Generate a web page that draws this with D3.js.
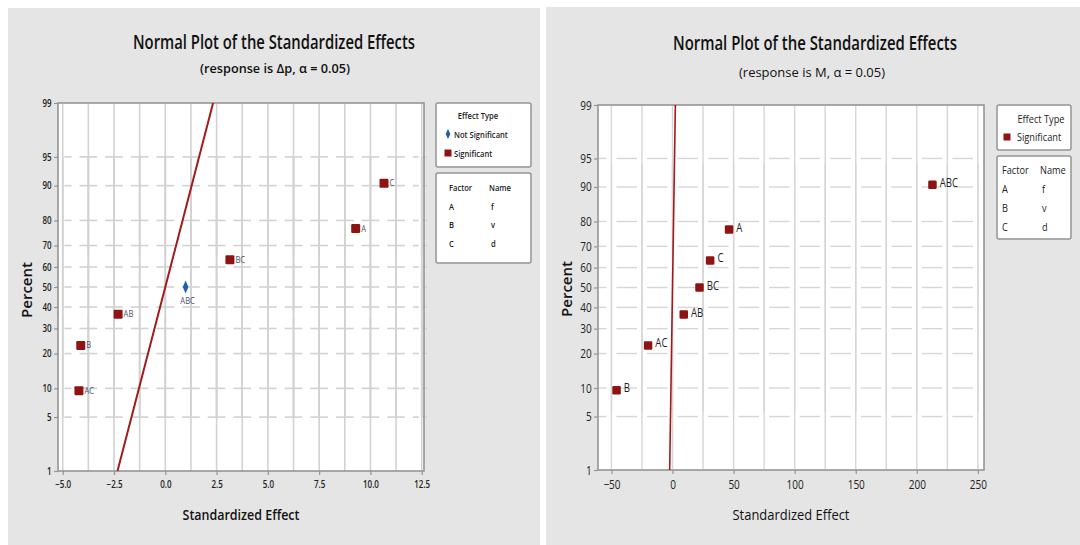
<!DOCTYPE html>
<html><head><meta charset="utf-8">
<script src="https://cdn.jsdelivr.net/npm/d3@7"></script>
<style>html,body{margin:0;padding:0;background:#fff;}svg{display:block;font-family:"Open Sans","Noto Sans",sans-serif;}</style>
</head><body><div id="c"></div>
<script>
// ---------- DATA ----------
const titleText = "Normal Plot of the Standardized Effects";
const subtitleLeft = "(response is Δp, α = 0.05)";
const subtitleRight = "(response is M, α = 0.05)";
const xLabel = "Standardized Effect";
const yLabel = "Percent";

const effectsLeft = ["AC", "B", "AB", "ABC", "BC", "A", "C"];
const valuesLeft = [-4.21, -4.12, -2.30, 0.99, 3.15, 9.28, 10.66];
const percentLeft = [9.5, 23.0, 36.5, 50.0, 63.5, 77.0, 90.5];
const significantLeft = [true, true, true, false, true, true, true];

const effectsRight = ["B", "AC", "AB", "BC", "C", "A", "ABC"];
const valuesRight = [-45.8, -20.0, 9.2, 22.1, 30.8, 46.3, 212.8];
const percentRight = [9.5, 23.0, 36.5, 50.0, 63.5, 77.0, 90.5];
const significantRight = [true, true, true, true, true, true, true];

const refLineEffect = [-2.33, 2.33];
const refLinePercent = [1, 99];

const xTicksLeft = [-5.0, -2.5, 0.0, 2.5, 5.0, 7.5, 10.0, 12.5];
const xTicksRight = [-50, 0, 50, 100, 150, 200, 250];
const percentTicks = [1, 5, 10, 20, 30, 40, 50, 60, 70, 80, 90, 95, 99];

const factorCodes = ["A", "B", "C"];
const factorNames = ["f", "v", "d"];
const effectTypesLeft = ["Not Significant", "Significant"];
const effectTypesRight = ["Significant"];

// ---------- HELPERS ----------
function qnorm(p){
  const a=[-3.969683028665376e+01,2.209460984245205e+02,-2.759285104469687e+02,1.383577518672690e+02,-3.066479806614716e+01,2.506628277459239e+00];
  const b=[-5.447609879822406e+01,1.615858368580409e+02,-1.556989798598866e+02,6.680131188771972e+01,-1.328068155288572e+01];
  const c=[-7.784894002430293e-03,-3.223964580411365e-01,-2.400758277161838e+00,-2.549732539343734e+00,4.374664141464968e+00,2.938163982698783e+00];
  const d=[7.784695709041462e-03,3.224671290700398e-01,2.445134137142996e+00,3.754408661907416e+00];
  const pl=0.02425; let q,r;
  if(p<pl){q=Math.sqrt(-2*Math.log(p));return (((((c[0]*q+c[1])*q+c[2])*q+c[3])*q+c[4])*q+c[5])/((((d[0]*q+d[1])*q+d[2])*q+d[3])*q+1);}
  if(p<=1-pl){q=p-0.5;r=q*q;return (((((a[0]*r+a[1])*r+a[2])*r+a[3])*r+a[4])*r+a[5])*q/(((((b[0]*r+b[1])*r+b[2])*r+b[3])*r+b[4])*r+1);}
  q=Math.sqrt(-2*Math.log(1-p));return -(((((c[0]*q+c[1])*q+c[2])*q+c[3])*q+c[4])*q+c[5])/((((d[0]*q+d[1])*q+d[2])*q+d[3])*q+1);
}
const zOf = p => qnorm(p/100);

const W=1080, H=545;
const svg = d3.select("#c").append("svg").attr("width",W).attr("height",H);
svg.append("rect").attr("width",W).attr("height",H).attr("fill","#fff");

function txt(g, x, y, s, o){
  o = o || {};
  const sx = o.sx || 0.8;
  const rot = o.rotate ? ` rotate(${o.rotate})` : "";
  const t = g.append("text")
    .attr("transform", `translate(${x},${y})${rot} scale(${sx},1)`)
    .attr("text-anchor", o.anchor || "start")
    .attr("font-size", o.size || 10)
    .attr("font-weight", o.weight || 400)
    .attr("fill", o.fill || "#222")
    .text(s);
  if (o.width){
    const w = t.node().getComputedTextLength();
    t.attr("transform", `translate(${x},${y})${rot} scale(${o.width/w},1)`);
  }
  return t;
}

const RED = "#8e1414", BLUE = "#1f5fae";

function drawPanel(cfg){
  const g = svg.append("g");
  g.append("rect").attr("x",cfg.bg[0]).attr("y",cfg.bg[1]).attr("width",cfg.bg[2]).attr("height",cfg.bg[3]).attr("fill","#e5e5e5");
  const P = cfg.plot;
  const x = d3.scaleLinear().domain(cfg.xDomain).range([P.x0, P.x1]);
  const y = d3.scaleLinear().domain([zOf(1), zOf(99)]).range([P.y1, P.y0]);
  g.append("rect").attr("x",P.x0).attr("y",P.y0).attr("width",P.x1-P.x0).attr("height",P.y1-P.y0).attr("fill","#fff");

  // grid
  const gg = g.append("g").attr("stroke",cfg.gridColor).attr("stroke-width",cfg.gridW).attr("fill","none");
  const vx = cfg.xGrid.map(v=>x(v));
  const hy = percentTicks.slice(1,-1).map(p=>y(zOf(p)));
  const gap = cfg.gap;
  if (cfg.gridStyle === "cross"){
    const xs = [P.x0, ...vx, P.x1];
    hy.forEach(yy=>{
      for(let i=0;i<xs.length-1;i++){
        const m = (xs[i]+xs[i+1])/2;
        const a = i===0 ? P.x0+1 : (xs[i-1]+xs[i])/2 + gap/2;
        gg.append("line").attr("x1",a).attr("x2",m-gap/2).attr("y1",yy).attr("y2",yy);
      }
      const lastM = (xs[xs.length-2]+xs[xs.length-1])/2 + gap/2;
      gg.append("line").attr("x1",lastM).attr("x2",P.x1-1).attr("y1",yy).attr("y2",yy);
    });
    const ys = [P.y0, ...hy, P.y1];
    vx.forEach(xx=>{
      for(let i=0;i<ys.length-1;i++){
        const s = ys[i+1]-ys[i];
        if (s > 18){
          const m=(ys[i]+ys[i+1])/2;
          gg.append("line").attr("x1",xx).attr("x2",xx).attr("y1",ys[i]+ (i===0?1:0)).attr("y2",m-gap/2);
          gg.append("line").attr("x1",xx).attr("x2",xx).attr("y1",m+gap/2).attr("y2",ys[i+1]);
        } else {
          gg.append("line").attr("x1",xx).attr("x2",xx).attr("y1",ys[i]).attr("y2",ys[i+1]);
        }
      }
    });
  } else {
    const xs = [P.x0, ...vx, P.x1];
    hy.forEach(yy=>{
      for(let i=0;i<xs.length-1;i++){
        const a = xs[i] + (i===0?1:gap), b = xs[i+1] - (i===xs.length-2?1:gap);
        if (b>a) gg.append("line").attr("x1",a).attr("x2",b).attr("y1",yy).attr("y2",yy);
      }
    });
    const ys = [P.y0, ...hy, P.y1];
    vx.forEach(xx=>{
      for(let i=0;i<ys.length-1;i++){
        const a = ys[i] + (i===0?1:gap), b = ys[i+1] - (i===ys.length-2?1:gap);
        if (b>a) gg.append("line").attr("x1",xx).attr("x2",xx).attr("y1",a).attr("y2",b);
      }
    });
  }

  // border
  g.append("rect").attr("x",P.x0).attr("y",P.y0).attr("width",P.x1-P.x0).attr("height",P.y1-P.y0)
    .attr("fill","none").attr("stroke","#959595").attr("stroke-width",1.6);

  // axes
  const ax = g.append("g").attr("transform",`translate(0,${P.y1})`)
    .call(d3.axisBottom(x).tickValues(cfg.xTicks).tickFormat(cfg.xFmt).tickSize(4).tickPadding(cfg.xPad));
  const ay = g.append("g").attr("transform",`translate(${P.x0},0)`)
    .call(d3.axisLeft(y).tickValues(percentTicks.map(zOf)).tickFormat((d,i)=>percentTicks[i]).tickSize(4).tickPadding(cfg.yPad));
  [ax, ay].forEach(a=>{
    a.select(".domain").remove();
    a.selectAll(".tick line").attr("stroke","#959595").attr("stroke-width",1.2);
    a.selectAll(".tick text").attr("font-family","'Open Sans',sans-serif").attr("font-size",cfg.tickSize)
      .attr("font-weight",cfg.tickWeight).attr("fill","#222").attr("transform","scale(0.8,1)");
  });

  // reference line
  g.append("line").attr("x1",x(refLineEffect[0])).attr("y1",y(zOf(refLinePercent[0])))
    .attr("x2",x(refLineEffect[1])).attr("y2",y(zOf(refLinePercent[1])))
    .attr("stroke","#a01c1c").attr("stroke-width",cfg.lineW);

  // points
  const pts = g.append("g");
  cfg.values.forEach((v,i)=>{
    const px = x(v), py = y(zOf(cfg.percent[i]));
    if (cfg.sig[i]){
      const s = cfg.mk;
      pts.append("rect").attr("x",px-s/2).attr("y",py-s/2).attr("width",s).attr("height",s).attr("rx",1.2).attr("fill",RED);
      txt(pts, px+cfg.mk/2+cfg.labDx, py+cfg.labDy, cfg.effects[i], {size:cfg.labSize, fill:cfg.labFill});
    } else {
      pts.append("path").attr("d",d3.symbol(d3.symbolDiamond, 50)()).attr("transform",`translate(${px},${py}) scale(0.75,1)`).attr("fill",BLUE);
      txt(pts, px+2, py+17, cfg.effects[i], {size:cfg.labSize, fill:cfg.labFill, anchor:"middle"});
    }
  });

  // titles
  txt(g, cfg.titleX, cfg.titleY, titleText, {size:19, anchor:"middle", fill:"#111", weight:600, width:cfg.titleW});
  txt(g, cfg.subX, cfg.subY, cfg.subtitle, {size:13, anchor:"middle", fill:"#111", weight:cfg.subWeight, width:cfg.subW});
  txt(g, cfg.xlabX, cfg.xlabY, xLabel, {size:15, anchor:"middle", fill:"#111", weight:cfg.subWeight, width:117});
  txt(g, cfg.ylabX, cfg.ylabY, yLabel, {size:15, anchor:"middle", fill:"#111", weight:600, rotate:-90, width:56});

  // legend
  const L = cfg.legend;
  const lg = g.append("g");
  lg.append("rect").attr("x",L.x).attr("y",L.y1).attr("width",L.w).attr("height",L.h1).attr("rx",2)
    .attr("fill","#fff").attr("stroke","#959595").attr("stroke-width",1.5);
  lg.append("rect").attr("x",L.x).attr("y",L.y2).attr("width",L.w).attr("height",L.h2).attr("rx",2)
    .attr("fill","#fff").attr("stroke","#959595").attr("stroke-width",1.5);
  txt(lg, L.headX, L.y1+L.headDy, "Effect Type", {size:L.fs, anchor:"middle", weight:L.fw});
  cfg.types.forEach((t,i)=>{
    const yy = L.y1 + L.headDy + L.row*(i+1);
    if (t === "Significant"){
      lg.append("rect").attr("x",L.mkX-3.5).attr("y",yy-7.5).attr("width",7).attr("height",7).attr("fill",RED);
    } else {
      lg.append("path").attr("d",d3.symbol(d3.symbolDiamond, 30)()).attr("transform",`translate(${L.mkX},${yy-4}) scale(0.8,1)`).attr("fill",BLUE);
    }
    txt(lg, L.mkX+L.txDx, yy, t, {size:L.fs, weight:L.fw});
  });
  txt(lg, L.c1, L.y2+L.tDy, "Factor", {size:L.fs, weight:L.fw});
  txt(lg, L.c2, L.y2+L.tDy, "Name", {size:L.fs, weight:L.fw});
  factorCodes.forEach((f,i)=>{
    const yy = L.y2 + L.tDy + L.trow*(i+1);
    txt(lg, L.c1, yy, f, {size:L.fs, weight:L.fw});
    txt(lg, L.c2+2, yy, factorNames[i], {size:L.fs, weight:L.fw});
  });
}

drawPanel({
  bg:[8,8,532,537], plot:{x0:58,x1:424,y0:103,y1:471},
  xDomain:[-5.23,12.61], xTicks:xTicksLeft, xFmt:d3.format(".1f"), xGrid:d3.range(-5,12.6,1.25),
  gridStyle:"cross", gap:8, gridColor:"#d2d2d2", gridW:1.6, xPad:6, yPad:4, tickSize:10, tickWeight:600, lineW:2,
  values:valuesLeft, percent:percentLeft, sig:significantLeft, effects:effectsLeft,
  mk:9, labDx:1, labDy:3, labSize:9.5, labFill:"#4a5268",
  titleX:274, titleY:49, titleW:282, subtitle:subtitleLeft, subX:275, subY:73, subW:150, subWeight:600,
  xlabX:241, xlabY:520, ylabX:32, ylabY:290,
  types:effectTypesLeft,
  legend:{x:436,w:95,y1:103,h1:64,y2:173,h2:90,headX:478,headDy:16,row:19,mkX:448,txDx:6,fs:9.5,fw:600,c1:449,c2:489,tDy:18,trow:18.5}
});

drawPanel({
  bg:[546,7,534,538], plot:{x0:598,x1:984,y0:105,y1:470},
  xDomain:[-61,255], xTicks:xTicksRight, xFmt:d3.format("d"), xGrid:d3.range(-50,251,25),
  gridStyle:"gap", gap:5, gridColor:"#d6d6d6", gridW:1.4, xPad:6, yPad:4, tickSize:12.5, tickWeight:400, lineW:1.6,
  values:valuesRight, percent:percentRight, sig:significantRight, effects:effectsRight,
  mk:8.5, labDx:3, labDy:2, labSize:12, labFill:"#1e1e1e",
  titleX:815, titleY:50, titleW:284, subtitle:subtitleRight, subX:812, subY:77, subW:146, subWeight:400,
  xlabX:791, xlabY:520, ylabX:572, ylabY:289,
  types:effectTypesRight,
  legend:{x:997,w:74,y1:105,h1:45,y2:156,h2:83,headX:1041,headDy:18,row:18,mkX:1007,txDx:10,fs:11.5,fw:400,c1:1002,c2:1040,tDy:18,trow:19}
});
</script></body></html>
